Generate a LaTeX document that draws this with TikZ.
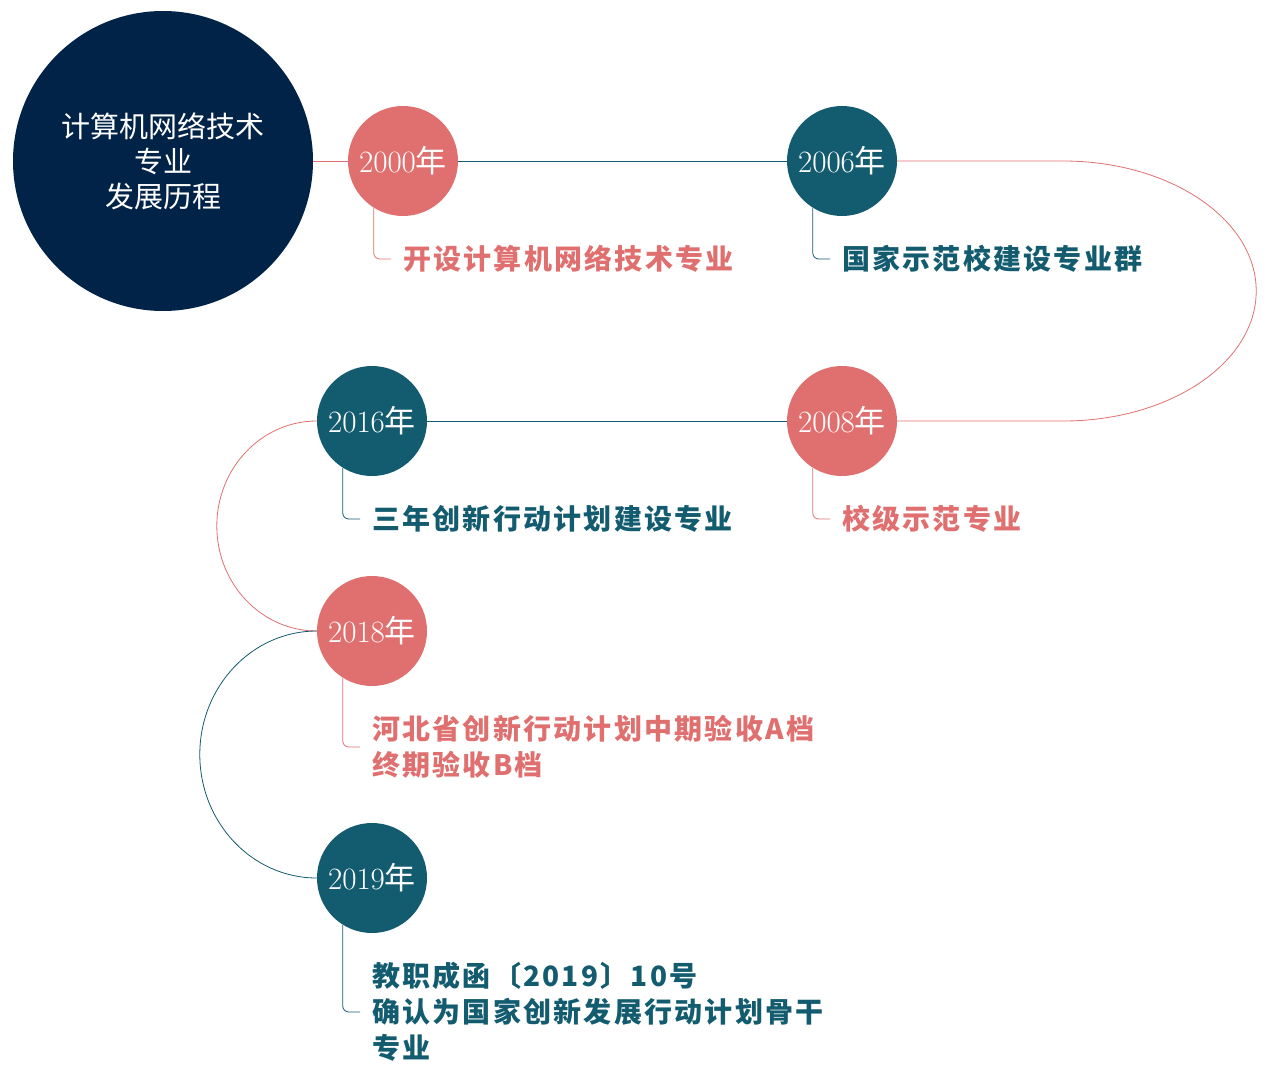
\documentclass[tikz,border=0pt]{standalone}
\usepackage{fontspec}
\usepackage{tikz}
\usetikzlibrary{positioning}
\newfontfamily\cjk{Noto Sans CJK SC}
\definecolor{hubblue}{RGB}{2,35,72}
\definecolor{coral}{RGB}{223,112,111}
\definecolor{petrol}{RGB}{19,92,111}

\begin{document}
\begin{tikzpicture}[x=1pt,y=-1pt,on grid,
	hub/.style={circle,fill=hubblue,minimum size=300pt,inner sep=0pt,text=white,align=center,font=\cjk\fontsize{29}{35}\selectfont},
	year/.style={circle,minimum size=110pt,inner sep=0pt,text=white,font=\fontsize{31}{31}\selectfont},
	note/.style={anchor=west,inner xsep=12pt,inner ysep=0pt,align=left,font=\cjk\bfseries\fontsize{28}{36}\selectfont\addfontfeature{LetterSpace=8}},
	link/.style={line width=0.8pt}]
	\useasboundingbox (0,0) rectangle (1268,1078);
	\node[hub] (hub) at (163,161) {计算机网络技术\\专业\\发展历程};
	\node[year,fill=coral] (y_2000) at (403,161) {2000{\cjk 年}};
	\node[year,fill=petrol] (y_2006) [right=439pt of y_2000] {2006{\cjk 年}};
	\node[year,fill=coral] (y_2008) [below=260pt of y_2006] {2008{\cjk 年}};
	\node[year,fill=petrol] (y_2016) [left=470pt of y_2008] {2016{\cjk 年}};
	\node[year,fill=coral] (y_2018) [below=210pt of y_2016] {2018{\cjk 年}};
	\node[year,fill=petrol] (y_2019) [below=247pt of y_2018] {2019{\cjk 年}};
	% notes below the years
	\node[note,text=coral] (n_2000) at ([xshift=-12pt,yshift=-98pt]y_2000.center) {开设计算机网络技术专业};
	\node[note,text=petrol] (n_2006) at ([xshift=-12pt,yshift=-98pt]y_2006.center) {国家示范校建设专业群};
	\node[note,text=coral] (n_2008) at ([xshift=-12pt,yshift=-98pt]y_2008.center) {校级示范专业};
	\node[note,text=petrol] (n_2016) at ([xshift=-12pt,yshift=-98pt]y_2016.center) {三年创新行动计划建设专业};
	\node[note,text=coral] (n_2018) at ([xshift=-12pt,yshift=-116pt]y_2018.center) {河北省创新行动计划中期验收A档\\终期验收B档};
	\node[note,text=petrol] (n_2019) at ([xshift=-12pt,yshift=-134pt]y_2019.center) {教职成函〔2019〕10号\\确认为国家创新发展行动计划骨干\\专业};
	% timeline
	\draw[link,coral] (hub) -- (y_2000);
	\draw[link,petrol] (y_2000) -- (y_2006);
	\draw[link,coral] (y_2006.east) -- ++(166,0) arc[start angle=-90,end angle=90,x radius=193,y radius=130] -- (y_2008.east);
	\draw[link,petrol] (y_2008) -- (y_2016);
	\draw[link,coral] (y_2016.west) arc[start angle=-90,end angle=-270,x radius=100,y radius=105] -- (y_2018.west);
	\draw[link,petrol] (y_2018.west) arc[start angle=-90,end angle=-270,x radius=117,y radius=123.5] -- (y_2019.west);
	% ticks to the notes
	\draw[link,coral,rounded corners=6pt] (y_2000.238) |- (n_2000.west);
	\draw[link,petrol,rounded corners=6pt] (y_2006.238) |- (n_2006.west);
	\draw[link,coral,rounded corners=6pt] (y_2008.238) |- (n_2008.west);
	\draw[link,petrol,rounded corners=6pt] (y_2016.238) |- (n_2016.west);
	\draw[link,coral,rounded corners=6pt] (y_2018.238) |- (n_2018.west);
	\draw[link,petrol,rounded corners=6pt] (y_2019.238) |- (n_2019.west);
\end{tikzpicture}
\end{document}
